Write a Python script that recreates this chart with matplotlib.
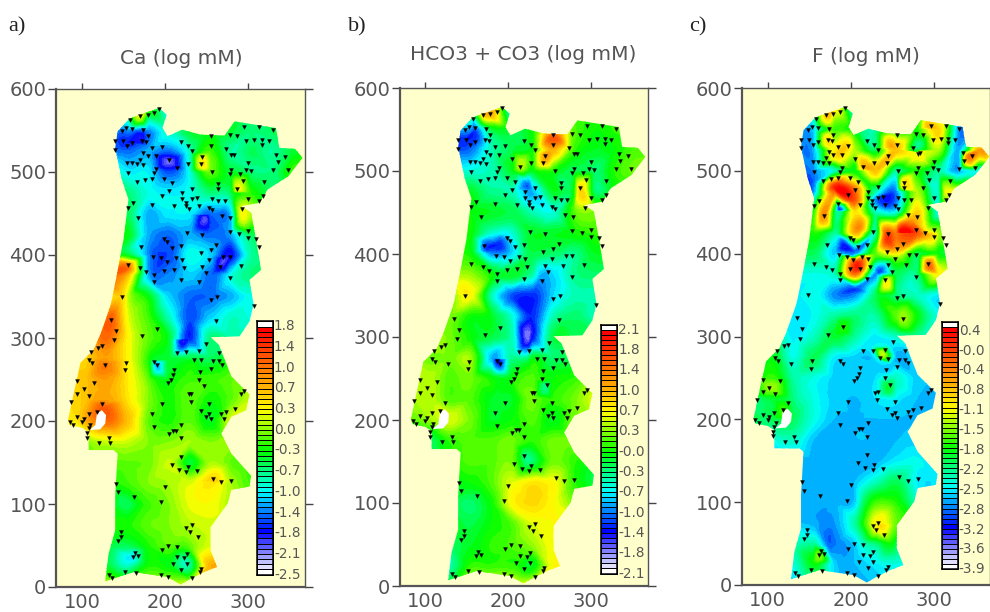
import numpy as np
import matplotlib
matplotlib.use("Agg")
import matplotlib.pyplot as plt
import matplotlib.tri as mtri
from matplotlib.colors import LinearSegmentedColormap
from matplotlib.patches import Polygon

# outline of the map (x, y)
outline = [(140,529),(143,549),(157,564),(170,569),(193,577),(202,569),(197,553),(203,543),(221,551),(243,545),
           (272,544),(284,561),(334,553),(338,529),(357,528),(366,517),(349,495),(324,479),(314,463),(292,459),
           (304,451),(310,418),(316,382),(302,370),(307,340),(302,320),(290,302),(255,301),(265,292),(280,254),
           (302,232),(298,213),(280,205),(268,185),(280,161),(304,134),(302,121),(280,117),(276,101),(255,72),
           (255,44),(263,24),(247,18),(231,10),(219,3),(203,12),(162,18),(128,7),(132,40),(140,68),(140,109),
           (143,161),(138,165),(108,165),(108,187),(100,192),(85,195),(83,201),(91,238),(98,270),(114,286),
           (122,304),(134,338),(136,346),(144,386),(150,418),(156,467),(148,491)]
hole = [(124,213),(129,207),(128,197),(122,190),(109,189),(116,195),(118,209)]

# sampling sites
site_x = [193,187,179,170,158,153,148,160,174,140,140,149,160,154,179,172,177,185,197,174,189,179,170,205,215,228,233,
          219,228,255,255,245,243,257,278,287,296,314,330,298,308,317,325,317,274,283,280,300,334,345,336,330,349,298,
          280,278,291,294,304,319,287,300,314,318,264,264,257,264,272,241,253,257,269,279,293,162,155,168,185,166,176,
          185,154,160,166,174,156,187,189,199,209,205,197,221,233,221,225,229,211,239,233,225,
          199,203,209,219,227,245,278,289,300,300,310,314,262,255,243,253,270,278,292,266,278,245,249,241,219,223,211,
          199,187,187,221,213,203,195,186,171,170,177,156,148,255,263,307,
          135,141,139,172,191,124,119,111,109,112,128,153,152,94,115,102,94,109,87,124,118,108,94,102,85,89,100,110,108,
          106,106,121,132,134,185,187,196,187,191,211,210,207,204,214,226,241,250,262,235,244,258,265,269,265,255,242,
          241,247,229,232,231,243,253,253,249,255,268,271,274,284,292,296,205,210,213,220,219,219,208,217,226,228,239,
          258,268,280,141,144,163,200,195,226,233,230,240,147,147,144,162,167,164,133,136,152,165,195,204,233,242,244,
          196,204,215,215,223,227,210,227,220]
site_y = [576,571,569,568,563,553,549,552,550,537,527,537,535,531,543,537,536,529,530,523,519,519,515,514,505,510,525,
          536,531,543,531,518,510,500,545,543,554,554,551,537,539,539,537,533,528,521,520,511,521,518,512,502,503,503,
          503,497,497,489,501,488,479,467,465,471,485,479,467,465,465,459,457,454,447,444,455,463,457,445,460,488,490,
          491,511,511,510,509,499,499,504,491,487,477,471,475,480,467,463,455,459,469,467,459,
          419,416,408,411,426,424,428,425,429,420,419,410,412,406,402,394,398,398,387,386,372,386,378,368,370,384,382,
          381,376,368,394,396,392,396,398,410,384,380,388,350,346,349,339,
          322,309,297,302,311,290,288,283,274,270,267,270,261,248,246,238,233,230,223,220,211,208,205,203,199,195,199,195,191,
          185,180,173,179,173,208,193,221,271,267,262,255,250,246,282,283,284,293,321,274,273,272,272,268,282,263,259,
          250,242,232,233,223,212,221,208,205,202,209,203,211,214,232,236,184,188,188,195,179,157,147,141,139,145,140,
          130,126,128,124,114,108,121,102,71,75,66,60,66,60,56,36,37,41,15,11,18,17,14,12,11,18,22,
          44,50,48,36,35,40,28,28,21]

# field, one row per y, columns at grid_x
grid_x = [80,105,130,155,180,205,230,255,280,305,330,355,380]
grid_y = [0,25,50,75,100,125,150,175,200,225,250,275,300,325,350,375,400,425,450,475,500,525,550,580]

ca_rows = [
    [.3,.3,.3,.2,.3,.3,.4,.5,.5,.5,.5,.5,.5],
    [-.5,-.5,-.5,-.9,-.3,-.4,-.8,.8,.8,.5,.5,.5,.5],
    [-.5,-.5,-.5,-.6,-.3,-.1,-.1,.25,.25,.2,.2,.2,.2],
    [-.3,-.3,-.3,-.3,-.1,0,.15,.25,.2,.1,.1,.1,.1],
    [-.4,-.4,-.4,-.6,-.2,0,.3,.35,.1,0,0,0,0],
    [-.3,-.3,-.3,-.2,0,.1,.25,.5,.1,-.2,-.2,-.2,-.2],
    [-.1,-.1,-.1,-.1,-.05,.2,-.5,.1,-.1,-.2,-.2,-.2,-.2],
    [0,0,.2,.2,0,0,.1,0,.1,.1,.1,.1,.1],
    [.5,.8,1.2,.7,-.1,-.3,-.1,-.45,.25,.2,.2,.2,.2],
    [.5,.7,.9,.5,0,-.3,-.1,-.35,-.1,.2,.2,.2,.2],
    [.5,.7,.9,.45,-.1,-.4,-.2,-.2,-.1,0,0,0,0],
    [.6,.6,.9,.4,-.3,-.5,-.5,-.6,-.4,-.4,-.4,-.4,-.4],
    [.8,.8,1.2,.4,-.1,-.5,-1.7,-.7,-.8,-.8,-.8,-.8,-.8],
    [1,1,1.2,.3,-.2,-.9,-1.6,-1.2,-.9,-1,-1,-1,-1],
    [.5,.5,.5,.2,-.4,-1.2,-1.5,-1.5,-1.3,-1,-1,-1,-1],
    [1,1,1.1,.7,-1.3,-1.4,-1.2,-1.5,-1,-.7,-.7,-.7,-.7],
    [-.4,-.4,-.4,-.5,-1.4,-1.6,-1,-1.2,-1.8,-.8,-.6,-.6,-.6],
    [-.4,-.4,-.4,-.4,-1.3,-1.5,-1.3,-1.5,-1.3,-.6,-.4,-.4,-.4],
    [-.4,-.4,-.4,-.6,-1.3,-1.1,-1.1,-1.5,-1.2,.1,-.3,-.3,-.3],
    [-.6,-.6,-.6,-.7,-1,-1.1,-1,-.7,-.6,-.3,-.6,-.4,-.2],
    [-.8,-.8,-.8,-1.1,-1.1,-1.6,-1,-.1,-.5,-.7,-.7,-.2,0],
    [-1.4,-1.4,-1.4,-1.5,-1.3,-1.5,-.9,-.2,-.8,-.6,-.8,-.5,-.2],
    [-1.4,-1.4,-1.4,-1.4,-1.4,-.9,-.5,-.4,-.5,-.7,-.6,-.5,-.5],
    [-.5,-.5,-.5,-.3,-.1,-1.2,-.5,-.5,-.5,-.5,-.5,-.5,-.5],
]
ca_spot_x = [205,155,172,250,270,190,222,245,292,154,128,125,134,287,160,225,258,258,170,150,90]
ca_spot_y = [512,535,548,445,390,267,295,510,445,386,267,215,322,480,36,30,22,130,565,350,205]
ca_spot_v = [-2.1,-1.7,-1.7,-2,-2,-1.3,-1.9,.5,.3,1.2,1.1,1.3,1.3,.3,-1.1,-.9,.8,.6,.2,.5,.5]

hco3_rows = [
    [-.1,-.1,-.1,.6,.7,.7,.7,.7,.7,.7,.7,.7,.7],
    [-.5,-.5,-.5,.1,.1,.1,-.1,.7,.7,.7,.7,.7,.7],
    [-.3,-.3,-.3,-.1,.1,.2,.4,.7,.7,.7,.7,.7,.7],
    [-.1,-.1,-.1,-.2,0,.2,.6,.7,.7,.5,.5,.5,.5],
    [-.2,-.2,-.2,-.3,0,.7,.9,.7,.3,.2,.2,.2,.2],
    [-.1,-.1,-.1,0,.2,.6,.8,.7,.1,-.2,-.2,-.2,-.2],
    [.1,.1,.1,.2,.2,.3,-.3,.3,.1,-.1,-.1,-.1,-.1],
    [-.3,-.3,.1,.2,.2,.3,.1,.3,.3,.3,.3,.3,.3],
    [.2,.4,.6,.3,-.1,0,.2,-.1,.3,.4,.4,.4,.4],
    [.4,.5,.2,.2,-.1,-.1,.3,.1,.3,.6,.6,.6,.6],
    [.5,.5,.2,.3,0,0,.2,0,.1,.3,.3,.3,.3],
    [.4,.3,.3,.4,-.9,-.4,-.1,-.3,-.2,-.2,-.2,-.2,-.2],
    [.5,.5,.3,0,-.2,-.5,-1.4,-.2,-.2,-.2,-.2,-.2,-.2],
    [.3,.3,.3,0,-.1,-.6,-1.3,-.5,-.3,-.5,-.5,-.5,-.5],
    [.3,.3,.3,.7,-.5,-1.2,-1.3,-.8,-.5,-.5,-.5,-.5,-.5],
    [.4,.4,.4,.4,0,-.1,-.5,-.8,-.4,-.3,-.3,-.3,-.3],
    [0,0,0,0,-1,-.8,-.2,-.3,-.4,-.1,-.1,-.1,-.1],
    [0,0,0,0,-.6,-.6,-.1,-.1,0,.1,.1,.1,.1],
    [0,0,0,0,-.1,-.2,-.5,-.6,.2,.3,.3,.3,.3],
    [-.1,-.1,-.1,-.1,-.4,-.5,-.9,-.1,0,-.3,0,0,0],
    [-.6,-.6,-.6,-.6,-.5,-.1,-.1,0,-.2,-.3,.1,.3,.3],
    [-1.1,-1.1,-1.1,-1.1,-.5,-.2,0,1.1,.1,-.1,0,.2,.2],
    [-1,-1,-1,-1,-.2,-.2,0,0,.2,0,.1,.1,.1],
    [.2,.2,.2,.2,.8,-.8,0,0,.1,.1,.1,.1,.1],
]
hco3_spot_x = [145,160,255,245,225,287,190,225,187,240,175,150,245,215,222,175,225,248]
hco3_spot_y = [535,550,545,515,485,479,412,297,270,375,408,355,238,505,270,570,150,378]
hco3_spot_v = [-1.3,-1.2,1.3,1.2,-1.1,.9,-1.3,-1.7,-1.4,-.9,-1.3,.8,-.4,.5,-.2,1.2,-.4,-.9]

f_rows = [
    [-2.65]*13,
    [-2.4,-2.4,-2.4,-1.8,-2.6,-2.65,-2.5,-2.4,-2.4,-2.4,-2.4,-2.4,-2.4],
    [-2.3,-2.3,-2.3,-2.2,-2.85,-2.6,-2.1,-2,-2,-2,-2,-2,-2],
    [-2.65,-2.65,-2.65,-2.7,-2.75,-2.2,-1,-1.5,-1.8,-2,-2,-2,-2],
    [-2.7,-2.7,-2.7,-2.7,-2.7,-2.6,-1.6,-1.7,-2.3,-2.5,-2.5,-2.5,-2.5],
    [-2.7,-2.7,-2.7,-2.7,-2.7,-2.65,-2.3,-2,-2.5,-2.55,-2.55,-2.55,-2.55],
    [-2.7,-2.7,-2.7,-2.7,-2.7,-2.7,-2.7,-2.5,-2.45,-2.5,-2.5,-2.5,-2.5],
    [-2.4,-2.4,-2.3,-2.65,-2.7,-2.65,-2.65,-2.65,-2.6,-2.6,-2.6,-2.6,-2.6],
    [-2,-2,-2,-2.4,-2.65,-2.65,-2.65,-2.65,-2.65,-2.65,-2.65,-2.65,-2.65],
    [-2.2,-1.9,-2.1,-2.4,-2.6,-2.65,-2.55,-2.5,-2.65,-2.65,-2.65,-2.65,-2.65],
    [-2.1,-1.6,-2.2,-2.4,-2.6,-2.6,-2.55,-2.3,-2.6,-2.65,-2.65,-2.65,-2.65],
    [-2.2,-1.8,-2.4,-2,-2.5,-2.6,-2.45,-2.7,-2.5,-2.5,-2.5,-2.5,-2.5],
    [-2.2,-2.2,-2.5,-2.3,-1.9,-2.2,-2.5,-2.3,-2.2,-2.2,-2.2,-2.2,-2.2],
    [-2.5,-2.5,-2.5,-2.45,-2.2,-2.1,-2.2,-1.5,-1.8,-2.4,-2.4,-2.4,-2.4],
    [-2.5,-2.5,-2.5,-2.4,-2.8,-2.8,-2,-2.1,-2.3,-2.5,-2.5,-2.5,-2.5],
    [-2.4,-2.4,-2.4,-2.4,-2.3,-.3,-2.8,-2,-2.1,-1,-1,-1,-1],
    [-2,-2,-2,-2,-2.6,-2.8,-1.5,-1,-2,-1.8,-1.8,-1.8,-1.8],
    [-1.7,-1.7,-1.7,-1.7,-2.2,-.6,-2.2,-.3,-.1,-1.3,-2,-2,-2],
    [-1.7,-1.7,-1.7,-1.7,-2,-.9,-2.3,-2.4,-.8,-2.4,-2.4,-2.4,-2.4],
    [-2.8,-2.8,-2.8,-2.8,-.2,-.2,-2.3,-2.8,-1.3,-2.3,-1.3,-2.8,-2.8],
    [-2.8,-2.8,-2.8,-2.8,-2.3,-1.8,-.7,-2.2,-1.7,-2.2,-2.7,-2.5,-2.5],
    [-2.7,-2.7,-2.7,-2.7,-1,-1.3,-2,-.7,-2,-1.3,-2.7,-.5,-.5],
    [-2.6,-2.6,-2.6,-2.6,-1.6,-1.9,-2.2,-1.8,-1.7,-.8,-2.8,-2.8,-2.8],
    [-2,-2,-2,-2,-.9,-2.6,-2.4,-2.4,-2.4,-2.4,-2.4,-2.4,-2.4],
]
f_spot_x = [179,191,203,167,211,243,258,271,209,294,215,247,171,292,340,282,261,171,181,197,298,290,314,255,305,243,
            185,193,233,205,155,231,235,161,237,261,191,105,119,245,153,173,215,215,245,250,225,247,247,225]
f_spot_y = [481,469,463,445,433,420,428,440,390,386,506,533,567,556,515,521,483,538,517,533,422,428,475,398,380,366,
            455,412,378,358,485,465,68,36,278,322,312,238,209,238,270,46,95,50,110,50,288,288,266,264]
f_spot_v = [.1,.1,-.1,-.4,-.4,.1,.2,-.5,.1,-.2,-.6,-.6,-.7,-.7,-.4,-1.1,-1.1,-.9,-.9,-.9,-.8,-1,-1.1,-1.2,-1,-1,
            -3,-3.1,-3,-3,-2.9,-2.9,-.9,-1.4,-1.2,-1.3,-1.7,-1.3,-1.6,-1.9,-2,-2.85,-2,-2.3,-1.8,-1.8,-2.5,-2.5,-2.6,-2.6]

ca_ticks = ["1.8","1.4","1.0","0.7","0.3","0.0","-0.3","-0.7","-1.0","-1.4","-1.8","-2.1","-2.5"]
hco3_ticks = ["2.1","1.8","1.4","1.0","0.7","0.3","-0.0","-0.3","-0.7","-1.0","-1.4","-1.8","-2.1"]
f_ticks = ["0.4","-0.0","-0.4","-0.8","-1.1","-1.5","-1.8","-2.2","-2.5","-2.8","-3.2","-3.6","-3.9"]

rainbow = LinearSegmentedColormap.from_list("rainbow_white", [
    (0, "#ff0000"), (16/48, "#ffff00"), (24/48, "#00ff00"), (32/48, "#00ffff"), (40/48, "#0000ff"), (1, "#ffffff")])
grey = "#555555"
plt.rcParams["font.family"] = "DejaVu Sans"


def draw_panel(fig, box, xlim, letter, letter_x, title, title_x, title_y, rows, sx, sy, sv, vmax, vmin, ticks, bar, label_top):
    ax = fig.add_axes([box[0]/990, 1-box[3]/612, (box[1]-box[0])/990, (box[3]-box[2])/612])
    ax.set_facecolor("#ffffcc")
    ax.set_xlim(xlim)
    ax.set_ylim(0, 600)

    xx, yy = np.meshgrid(grid_x, grid_y)
    px = np.r_[xx.ravel(), sx]
    py = np.r_[yy.ravel(), sy]
    pv = np.r_[np.array(rows, float).ravel(), sv]
    tri = mtri.Triangulation(px, py)
    fine_tri, fine_v = mtri.UniformTriRefiner(tri).refine_field(pv, mtri.CubicTriInterpolator(tri, pv, kind="geom"), subdiv=3)

    levels = np.linspace(vmax, vmin, 49)[::-1]
    cs = ax.tricontourf(fine_tri, fine_v, levels=levels, cmap=rainbow.reversed(), extend="both", zorder=2)
    clip = Polygon(outline, closed=True, transform=ax.transData, facecolor="none", edgecolor="none")
    ax.add_patch(clip)
    cs.set_clip_path(clip)
    ax.add_patch(Polygon(hole, closed=True, facecolor="white", edgecolor="none", zorder=3))
    ax.plot(site_x, site_y, ls="none", marker="v", ms=2.8, color="black", mew=0.3, zorder=4)

    ax.set_xticks([100, 200, 300])
    ax.set_yticks([0, 100, 200, 300, 400, 500, 600])
    ax.tick_params(axis="x", which="both", top=True, bottom=False, length=4, width=1, color="#444444",
                   labelsize=14, labelcolor=grey, pad=0)
    ax.tick_params(axis="y", which="both", left=True, right=True, length=4, width=1, color="#444444",
                   labelsize=14, labelcolor=grey, pad=1)
    ax.tick_params(axis="y", right=True, length=6)
    for side, lw in zip(["left", "bottom", "top", "right"], [1.6, 1.6, 1.0, 1.0]):
        ax.spines[side].set_linewidth(lw)
        ax.spines[side].set_color(grey)

    # colour scale
    cax = ax.inset_axes([bar[0], bar[2], bar[1]-bar[0], bar[3]-bar[2]], transform=ax.transData, zorder=5)
    cell_colors = [(1, 1, 1, 1)] + [rainbow(i/47) for i in range(48)]
    for i, c in enumerate(cell_colors):
        cax.fill_between([0, 1], 49-i-1, 49-i, facecolor=c, edgecolor="black", linewidth=0.7)
    cax.set_xlim(0, 1)
    cax.set_ylim(0, 49)
    cax.set_xticks([])
    cax.set_yticks([])
    for s in cax.spines.values():
        s.set_linewidth(1.1)
        s.set_color("black")
    for i, t in enumerate(ticks):
        y = label_top + (bar[2]-label_top)*i/12
        ax.text(bar[1]+1.5, y, t, fontsize=9.8, color=grey, va="center", ha="left", zorder=6)

    fig.text(title_x/990, 1-title_y/612, title, fontsize=14.5, color=grey, ha="center", va="center")
    fig.text(letter_x/990, 1-27/612, letter, family="Liberation Serif", fontsize=16, color="#222222", ha="left", va="center")
    return ax


fig = plt.figure(figsize=(9.9, 6.12), dpi=100, facecolor="white")

draw_panel(fig, (56, 305, 89, 587), (68.6, 369), "a)", 8, "Ca (log mM)", 181, 58,
           ca_rows, ca_spot_x, ca_spot_y, ca_spot_v, 1.8, -2.5, ca_ticks, (311, 330, 15, 320), 314)
draw_panel(fig, (400, 648, 88, 586), (69.8, 369.2), "b)", 348, "HCO3 + CO3 (log mM)", 523, 55,
           hco3_rows, hco3_spot_x, hco3_spot_y, hco3_spot_v, 2.1, -2.1, hco3_ticks, (313, 332, 15, 315), 309)
draw_panel(fig, (742, 990, 88, 585), (69.1, 367), "c)", 689, "F (log mM)", 866, 56,
           f_rows, f_spot_x, f_spot_y, f_spot_v, 0.4, -3.9, f_ticks, (309, 328, 19, 318), 307)

fig.savefig("out.png", dpi=100)
